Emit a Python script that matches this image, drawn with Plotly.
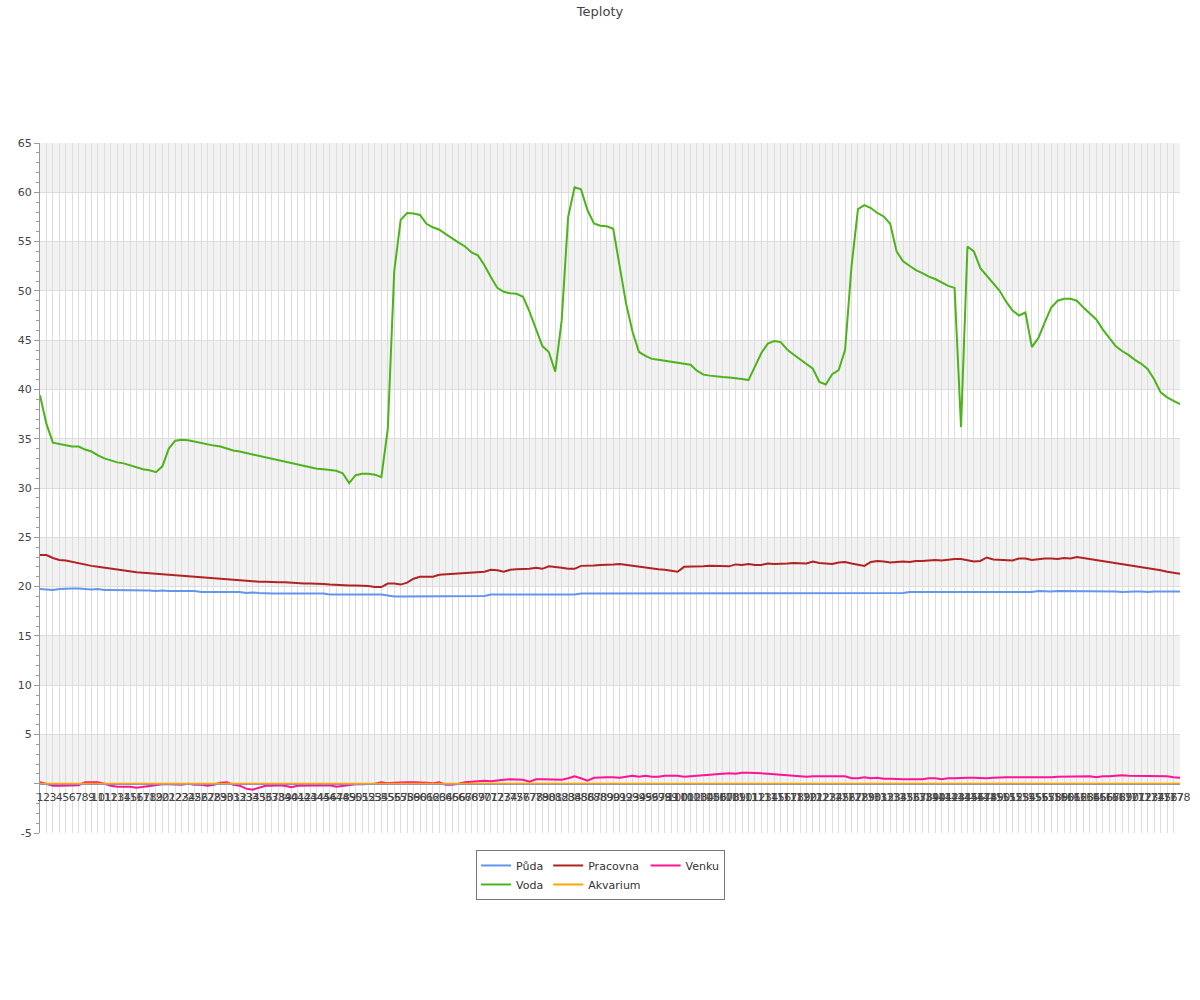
import plotly.graph_objects as go

idx = list(range(1, 179))
x_labels = [str(i) for i in idx]

puda = [19.75, 19.7, 19.65, 19.75, 19.8, 19.8, 19.8, 19.75, 19.7, 19.75,
        19.65, 19.65, 19.65, 19.65, 19.65, 19.65, 19.65, 19.6, 19.55, 19.6,
        19.55, 19.55, 19.55, 19.55, 19.55, 19.45, 19.45, 19.45, 19.45, 19.45,
        19.45, 19.45, 19.35, 19.4, 19.35, 19.3, 19.3, 19.3, 19.3, 19.3,
        19.3, 19.3, 19.3, 19.3, 19.3, 19.2, 19.2, 19.2, 19.2, 19.15,
        19.2, 19.15, 19.2, 19.2, 19.1, 19.0, 19.0, 19.0, 19.0, 19.0,
        19.0, 19.0, 19.0, 19.0, 19.05, 19.05, 19.05, 19.05, 19.05, 19.05,
        19.2, 19.2, 19.2, 19.2, 19.2, 19.2, 19.2, 19.2, 19.2, 19.2,
        19.2, 19.2, 19.2, 19.2, 19.3, 19.3, 19.3, 19.3, 19.3, 19.3,
        19.3, 19.3, 19.3, 19.3, 19.3, 19.3, 19.3, 19.3, 19.3, 19.3,
        19.3, 19.3, 19.3, 19.3, 19.3, 19.3, 19.3, 19.3, 19.3, 19.3,
        19.3, 19.3, 19.3, 19.3, 19.3, 19.3, 19.3, 19.3, 19.3, 19.3,
        19.3, 19.3, 19.3, 19.3, 19.3, 19.3, 19.35, 19.3, 19.35, 19.35,
        19.35, 19.35, 19.35, 19.35, 19.35, 19.45, 19.45, 19.4, 19.4, 19.45,
        19.45, 19.45, 19.4, 19.45, 19.45, 19.45, 19.45, 19.45, 19.45, 19.45,
        19.45, 19.45, 19.45, 19.45, 19.45, 19.55, 19.5, 19.5, 19.55, 19.55,
        19.55, 19.55, 19.5, 19.55, 19.5, 19.5, 19.5, 19.5, 19.45, 19.5,
        19.5, 19.5, 19.45, 19.5, 19.5, 19.5, 19.5, 19.5]

voda = [39.4, 36.5, 34.6, 34.45, 34.3, 34.2, 34.2, 33.9, 33.7, 33.3,
        33.0, 32.8, 32.6, 32.5, 32.3, 32.1, 31.9, 31.8, 31.6, 32.2,
        34.0, 34.8, 34.9, 34.85, 34.7, 34.6, 34.45, 34.3, 34.2, 34.0,
        33.8, 33.7, 33.55, 33.4, 33.25, 33.1, 32.95, 32.8, 32.7, 32.5,
        32.35, 32.25, 32.1, 31.95, 31.9, 31.8, 31.75, 31.5, 30.5, 31.3,
        31.45, 31.45, 31.35, 31.1, 36.0, 52.0, 57.2, 57.9, 57.85, 57.7,
        56.8, 56.45, 56.2, 55.75, 55.3, 54.9, 54.5, 53.9, 53.6, 52.6,
        51.4, 50.3, 49.9, 49.75, 49.7, 49.4, 47.9, 46.1, 44.4, 43.8,
        41.8, 47.0, 57.5, 60.5, 60.3, 58.2, 56.85, 56.6, 56.55, 56.3,
        52.4, 48.7, 45.85, 43.8, 43.4, 43.1, 43.0, 42.9, 42.85, 42.7,
        42.6, 42.5, 41.9, 41.5, 41.4, 41.3, 41.25, 41.2, 41.15, 41.05,
        40.95, 42.3, 43.7, 44.65, 44.9, 44.8, 44.05, 43.55, 43.05, 42.6,
        42.1, 40.75, 40.5, 41.55, 41.95, 44.0, 52.5, 58.3, 58.7, 58.4,
        57.9, 57.55, 56.8, 54.0, 53.0, 52.55, 52.1, 51.8, 51.45, 51.2,
        50.85, 50.5, 50.3, 36.2, 54.5, 54.0, 52.3, 51.5, 50.8, 50.0,
        48.9, 48.0, 47.5, 47.8, 44.3, 45.2, 46.8, 48.3, 49.0, 49.2,
        49.2, 49.0, 48.3, 47.7, 47.1, 46.1, 45.2, 44.4, 43.9, 43.5,
        43.0, 42.6, 42.05, 41.0, 39.7, 39.2, 38.85, 38.5]

pracovna = [23.2, 23.2, 22.9, 22.7, 22.65, 22.5, 22.35, 22.2, 22.1, 22.0,
            21.9, 21.8, 21.7, 21.6, 21.55, 21.45, 21.4, 21.35, 21.3, 21.25,
            21.2, 21.15, 21.1, 21.0, 21.0, 20.95, 20.9, 20.85, 20.8, 20.75,
            20.7, 20.6, 20.55, 20.55, 20.5, 20.5, 20.45, 20.45, 20.45, 20.4,
            20.3, 20.3, 20.3, 20.3, 20.25, 20.2, 20.15, 20.1, 20.1, 20.1,
            20.1, 20.05, 19.95, 19.95, 20.3, 20.3, 20.2, 20.4, 20.8, 21.0,
            21.0, 21.0, 21.2, 21.25, 21.3, 21.35, 21.4, 21.45, 21.5, 21.5,
            21.7, 21.65, 21.5, 21.7, 21.75, 21.75, 21.8, 21.9, 21.8, 22.05,
            22.0, 21.9, 21.8, 21.8, 22.1, 22.1, 22.15, 22.2, 22.2, 22.25,
            22.3, 22.2, 22.1, 22.0, 21.9, 21.85, 21.75, 21.7, 21.6, 21.5,
            22.0, 22.0, 22.05, 22.05, 22.1, 22.1, 22.05, 22.05, 22.25, 22.2,
            22.3, 22.2, 22.2, 22.35, 22.3, 22.3, 22.35, 22.4, 22.35, 22.35,
            22.55, 22.4, 22.35, 22.3, 22.45, 22.5, 22.35, 22.2, 22.1, 22.5,
            22.6, 22.55, 22.45, 22.5, 22.55, 22.5, 22.6, 22.6, 22.65, 22.7,
            22.65, 22.75, 22.8, 22.8, 22.65, 22.55, 22.6, 22.95, 22.75, 22.7,
            22.7, 22.65, 22.85, 22.85, 22.7, 22.8, 22.85, 22.85, 22.8, 22.9,
            22.85, 23.0, 22.9, 22.8, 22.7, 22.6, 22.5, 22.4, 22.3, 22.2,
            22.1, 22.0, 21.9, 21.75, 21.65, 21.5, 21.4, 21.3]

akvarium = [0, 0, 0, 0, 0, 0, 0, 0, 0, 0, 0, 0, 0, 0, 0, 0, 0, 0, 0, 0,
            0, 0, 0, 0, 0, 0, 0, 0, 0, 0, 0, 0, 0, 0, 0, 0, 0, 0, 0, 0,
            0, 0, 0, 0, 0, 0, 0, 0, 0, 0, 0, 0, 0, 0, 0, 0, 0, 0, 0, 0,
            0, 0, 0, 0, 0, 0, 0, 0, 0, 0, 0, 0, 0, 0, 0, 0, 0, 0, 0, 0,
            0, 0, 0, 0, 0, 0, 0, 0, 0, 0, 0, 0, 0, 0, 0, 0, 0, 0, 0, 0,
            0, 0, 0, 0, 0, 0, 0, 0, 0, 0, 0, 0, 0, 0, 0, 0, 0, 0, 0, 0,
            0, 0, 0, 0, 0, 0, 0, 0, 0, 0, 0, 0, 0, 0, 0, 0, 0, 0, 0, 0,
            0, 0, 0, 0, 0, 0, 0, 0, 0, 0, 0, 0, 0, 0, 0, 0, 0, 0, 0, 0,
            0, 0, 0, 0, 0, 0, 0, 0, 0, 0, 0, 0, 0, 0, 0, 0, 0, 0]

venku = [0.15, 0.0, -0.2, -0.2, -0.2, -0.2, -0.15, 0.15, 0.15, 0.15,
         0.0, -0.2, -0.3, -0.3, -0.3, -0.4, -0.3, -0.2, -0.1, -0.05,
         -0.05, -0.05, -0.1, 0.0, -0.1, -0.1, -0.2, -0.1, 0.1, 0.15,
         -0.1, -0.2, -0.5, -0.6, -0.4, -0.2, -0.2, -0.15, -0.2, -0.35,
         -0.2, -0.2, -0.15, -0.15, -0.15, -0.15, -0.3, -0.2, -0.1, -0.05,
         -0.05, -0.05, 0.0, 0.15, 0.05, 0.1, 0.15, 0.15, 0.15, 0.15,
         0.1, 0.05, 0.15, -0.1, -0.1, 0.0, 0.15, 0.2, 0.25, 0.3,
         0.25, 0.35, 0.4, 0.45, 0.4, 0.4, 0.2, 0.45, 0.45, 0.45,
         0.45, 0.4, 0.55, 0.75, 0.55, 0.3, 0.6, 0.65, 0.65, 0.65,
         0.6, 0.7, 0.8, 0.7, 0.8, 0.7, 0.7, 0.8, 0.8, 0.8,
         0.7, 0.75, 0.75, 0.8, 0.85, 0.95, 1.0, 1.05, 1.0, 1.1,
         1.1, 1.1, 1.05, 1.0, 0.95, 0.85, 0.8, 0.75, 0.75, 0.7,
         0.75, 0.75, 0.75, 0.75, 0.75, 0.75, 0.55, 0.55, 0.65, 0.55,
         0.6, 0.5, 0.5, 0.45, 0.45, 0.45, 0.45, 0.45, 0.55, 0.55,
         0.45, 0.55, 0.55, 0.6, 0.6, 0.6, 0.55, 0.55, 0.6, 0.65,
         0.65, 0.65, 0.65, 0.6, 0.65, 0.65, 0.65, 0.65, 0.7, 0.7,
         0.7, 0.75, 0.75, 0.75, 0.65, 0.75, 0.75, 0.8, 0.85, 0.8,
         0.8, 0.8, 0.8, 0.8, 0.8, 0.75, 0.65, 0.6]

y_min, y_max, y_step = -5, 65, 5
y_tickvals = list(range(y_min, y_max + 1, y_step))
y_ticktext = ["" if v == 0 else str(v) for v in y_tickvals]

series = [
    ("Půda", puda, "#6495ED", "g1"),
    ("Pracovna", pracovna, "#B22222", "g2"),
    ("Venku", venku, "#FF1493", "g3"),
    ("Voda", voda, "#4CB41A", "g1"),
    ("Akvarium", akvarium, "#FFA500", "g2"),
]

fig = go.Figure()
for name, vals, color, grp in series:
    fig.add_trace(go.Scatter(
        x=idx, y=vals, name=name, mode="lines", legendgroup=grp,
        line=dict(color=color, width=2),
    ))

# alternating background bands
for lo in range(0, y_max, 10):
    fig.add_shape(type="rect", xref="paper", yref="y", x0=0, x1=1,
                  y0=lo, y1=lo + 5, fillcolor="#f2f2f2", line_width=0,
                  layer="below")

font = "DejaVu Sans, Verdana, sans-serif"
fig.update_layout(
    width=1200, height=1000,
    margin=dict(l=40, r=20, t=143, b=167, autoexpand=False),
    paper_bgcolor="white", plot_bgcolor="white",
    font=dict(family=font, size=11, color="#444"),
    title=dict(text="Teploty", x=0.5, xanchor="center", y=0.989,
               yanchor="middle", font=dict(size=13, color="#444")),
    showlegend=True,
    legend=dict(orientation="h", traceorder="grouped", x=0.4917,
                xanchor="center", y=-0.0246, yanchor="top",
                bgcolor="white", bordercolor="#777", borderwidth=1,
                font=dict(size=11, color="#333"), tracegroupgap=0,
                itemwidth=30),
    xaxis=dict(range=[1, 178], tickmode="array", tickvals=idx,
               ticktext=x_labels, tickangle=0, showgrid=True,
               gridcolor="#dddddd", gridwidth=1, zeroline=False,
               anchor="free", position=(0 - y_min) / (y_max - y_min),
               showline=True, linecolor="#999", linewidth=1,
               automargin=False, ticklabelstandoff=3,
               ticks="", tickfont=dict(size=11, color="#444")),
    yaxis=dict(range=[y_min, y_max], tickmode="array", tickvals=y_tickvals,
               ticktext=y_ticktext, showgrid=True, gridcolor="#dddddd",
               zeroline=False, showline=True, linecolor="#999",
               automargin=False,
               ticks="outside", ticklen=5, tickcolor="#999",
               minor=dict(dtick=1, ticks="outside", ticklen=3,
                          tickcolor="#999", showgrid=False),
               tickfont=dict(size=11, color="#444")),
)

fig.write_html(
    "out.html",
    config={"displayModeBar": False},
    post_script="document.body.style.margin='0px';",
)
